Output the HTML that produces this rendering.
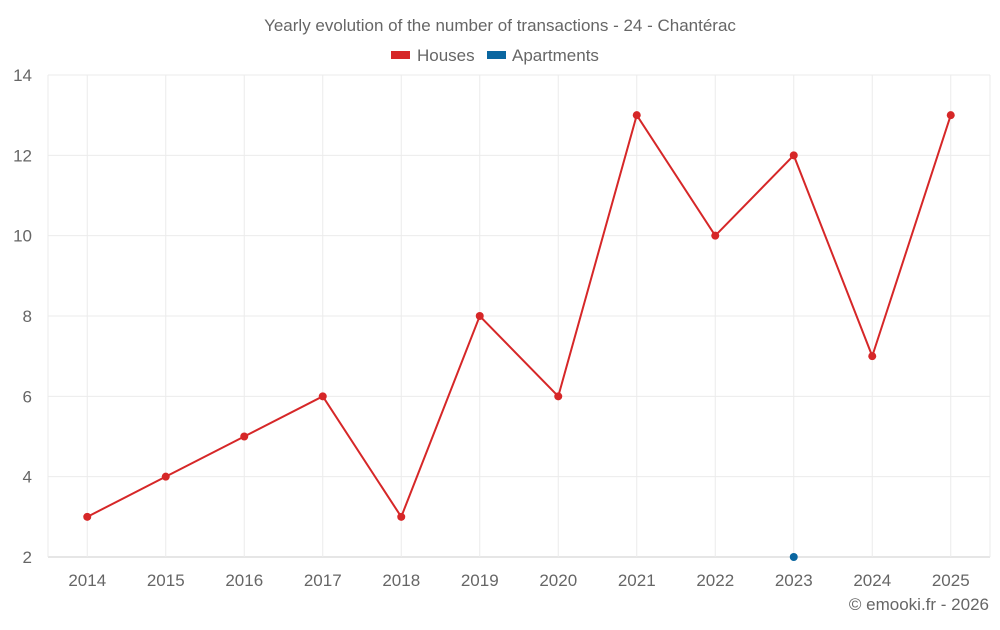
<!DOCTYPE html>
<html><head><meta charset="utf-8"><style>
body{margin:0;background:#fff;font-family:"Liberation Sans",sans-serif;}
svg text{font-family:"Liberation Sans",sans-serif;}
</style></head><body>
<svg id="chart" width="1000" height="625" xmlns="http://www.w3.org/2000/svg">
<text x="500" y="31" text-anchor="middle" font-size="17" fill="#666">Yearly evolution of the number of transactions - 24 - Chantérac</text>
<g>
<g><rect x="391" y="51" width="19" height="8" fill="#d62728"/><text x="417" y="61" font-size="17" fill="#666">Houses</text></g>
<g><rect x="487" y="51" width="19" height="8" fill="#0a66a0"/><text x="512" y="61" font-size="17" fill="#666">Apartments</text></g>
</g>
<g id="grid"></g>
<g id="axes"></g>
<g id="series"></g>
<text x="989" y="610" text-anchor="end" font-size="17" fill="#666">© emooki.fr - 2026</text>
</svg>
<script>
const years=["2014","2015","2016","2017","2018","2019","2020","2021","2022","2023","2024","2025"];
const houses=[3,4,5,6,3,8,6,13,10,12,7,13];
const apartments=[null,null,null,null,null,null,null,null,null,2,null,null];
const yTicks=[2,4,6,8,10,12,14];
const NS="http://www.w3.org/2000/svg";
const L=48,R=990,T=75,B=557,yMin=2,yMax=14;
const step=(R-L)/years.length;
const x=i=>L+step*(i+0.5);
const y=v=>B-(v-yMin)/(yMax-yMin)*(B-T);
function mk(tag,attrs,parent){const e=document.createElementNS(NS,tag);for(const k in attrs)e.setAttribute(k,attrs[k]);parent.appendChild(e);return e;}
const grid=document.getElementById('grid'),axes=document.getElementById('axes'),ser=document.getElementById('series');
yTicks.forEach(t=>{
 const l=mk('line',{x1:L,x2:R,y1:y(t),y2:y(t),stroke:t===yMin?'#ccc':'#ebebeb','stroke-width':1},grid);
 
 
 const tx=mk('text',{x:32,y:y(t)+6,'text-anchor':'end','font-size':17,fill:'#666'},axes);
 tx.textContent=t;
 
 
});
years.forEach((yr,i)=>{
 const l=mk('line',{x1:x(i),x2:x(i),y1:T,y2:B,stroke:'#ebebeb','stroke-width':1},grid);
 
 
 const tx=mk('text',{x:x(i),y:586,'text-anchor':'middle','font-size':17,fill:'#666'},axes);
 tx.textContent=yr;
 
 
});
const bl=mk('line',{x1:L,x2:L,y1:T,y2:B,stroke:'#ebebeb'},grid);


const br=mk('line',{x1:R,x2:R,y1:T,y2:B,stroke:'#ebebeb'},grid);


const pts=houses.map((v,i)=>x(i)+','+y(v)).join(' ');
const pl=mk('polyline',{points:pts,fill:'none',stroke:'#d62728','stroke-width':2},ser);


houses.forEach((v,i)=>{
 const c=mk('circle',{cx:x(i),cy:y(v),r:4,fill:'#d62728'},ser);
 
 
});
apartments.forEach((v,i)=>{
 if(v==null)return;
 const c=mk('circle',{cx:x(i),cy:y(v),r:4,fill:'#0a66a0'},ser);
 
 
});
</script>
</body></html>
